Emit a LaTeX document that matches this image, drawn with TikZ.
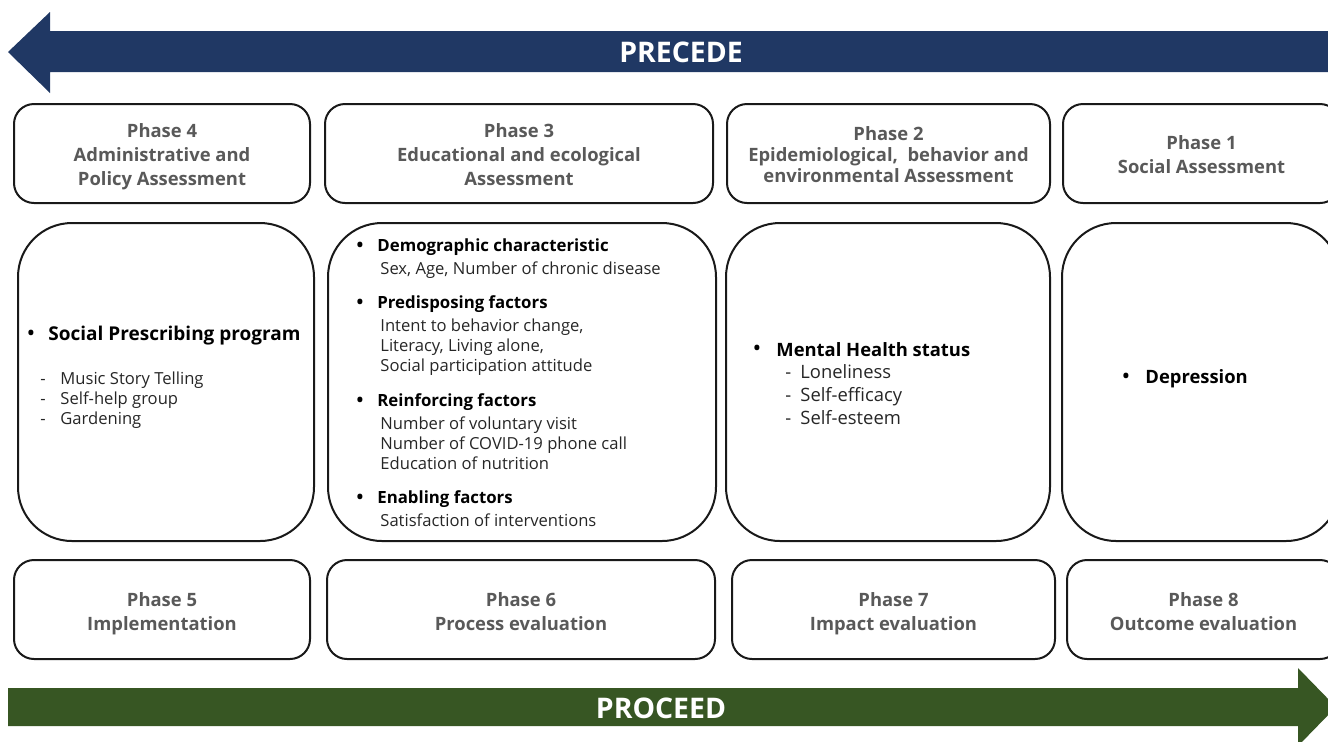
\documentclass[tikz,border=0pt]{standalone}
\usepackage{fontspec}
\setmainfont{Open Sans}
\definecolor{precedeblue}{HTML}{203864}
\definecolor{proceedgreen}{HTML}{375623}
\definecolor{phasegray}{HTML}{595959}

\begin{document}
\begin{tikzpicture}[x=0.5pt,y=-0.5pt,
  stage/.style={draw=black!90,line width=1pt,rounded corners=10pt},
  bigstage/.style={stage,rounded corners=27pt},
  phasetext/.style={font=\fontsize{9.2}{12}\selectfont\bfseries,text=phasegray,align=center,
    execute at begin node=\strut,execute at end node=\strut},
  bullet/.style={inner sep=0pt,font=\fontsize{9}{10}\selectfont\bfseries},
  lead/.style={anchor=west,inner sep=0pt,font=\fontsize{8.4}{10}\selectfont\bfseries},
  detail/.style={anchor=north west,inner sep=0pt,align=left,font=\fontsize{8.3}{10}\selectfont,text=black!85},
  banner/.style={font=\fontsize{14.2}{16}\selectfont\bfseries,text=white}]
  \useasboundingbox (0,0) rectangle (1328,741);

  % PRECEDE arrow, pointing left
  \fill[precedeblue] (1340,31) -- (50,31) -- (50,12) -- (8,52) -- (50,93) -- (50,72) -- (1340,72) -- cycle;
  \node[banner] (precede) at (681,52) {PRECEDE};

  % assessment phases (top row)
  \foreach \xa/\xb/\nm/\txt in {14/310/ph4/{Phase 4\\Administrative and\\Policy Assessment},
      325/713/ph3/{Phase 3\\Educational and ecological\\Assessment},
      727/1050/ph2/{Phase 2\\[-1.5pt]Epidemiological,\ \ behavior and\\[-1.5pt]environmental Assessment},
      1063/1340/ph1/{Phase 1\\Social Assessment}} {
    \draw[stage] (\xa,104) rectangle (\xb,203);
    \node[phasetext] (\nm) at ({(\xa+\xb)/2},158.5) {\txt};
  }

  % content boxes
  \foreach \xa/\xb in {18/314,328/716,726/1050,1062/1340}
    \draw[bigstage] (\xa,223) rectangle (\xb,541);

  % phase 4 content
  \node[bullet] (spp-b) at (31,335) {•};
  \node[lead,font=\fontsize{9.5}{10}\selectfont\bfseries] (spp) at (48,335.5) {Social Prescribing program};
  \node[detail] (spp-d) at (40,371) {\makebox[10pt][l]{-}Music Story Telling\\
    \makebox[10pt][l]{-}Self-help group\\\makebox[10pt][l]{-}Gardening};

  % phase 3 content
  \foreach \yb/\nm/\hd/\ln in {245/demo/{Demographic characteristic}/{Sex, Age, Number of chronic disease},
      302/pred/{Predisposing factors}/{Intent to behavior change,\\Literacy, Living alone,\\Social participation attitude},
      400/rein/{Reinforcing factors}/{Number of voluntary visit\\Number of COVID-19 phone call\\Education of nutrition},
      497/enab/{Enabling factors}/{Satisfaction of interventions}} {
    \node[bullet] (\nm-b) at (360,\yb+2) {•};
    \node[lead] (\nm) at (377,\yb+2.5) {\hd};
    \node[detail] (\nm-d) at (380,\yb+16) {\ln};
  }

  % phase 2 content
  \node[bullet] (mhs-b) at (757,350) {•};
  \node[lead,font=\fontsize{9.2}{10}\selectfont\bfseries] (mhs) at (776,349.5) {Mental Health status};
  \node[detail,font=\fontsize{9.2}{11.5}\selectfont] (mhs-d) at (785,364) {\makebox[7.5pt][l]{-}Loneliness\\
    \makebox[7.5pt][l]{-}Self-efficacy\\\makebox[7.5pt][l]{-}Self-esteem};

  % phase 1 content
  \node[bullet] (dep-b) at (1126,378) {•};
  \node[lead,font=\fontsize{9.2}{10}\selectfont\bfseries] (dep) at (1145,378.5) {Depression};

  % evaluation phases (bottom row)
  \foreach \xa/\xb/\nm/\txt in {14/310/ph5/{Phase 5\\Implementation},
      327/715/ph6/{Phase 6\\Process evaluation},
      732/1055/ph7/{Phase 7\\Impact evaluation},
      1067/1340/ph8/{Phase 8\\Outcome evaluation}} {
    \draw[stage] (\xa,560) rectangle (\xb,659);
    \node[phasetext] (\nm) at ({(\xa+\xb)/2},615.5) {\txt};
  }

  % PROCEED arrow, pointing right
  \fill[proceedgreen] (8,688) -- (1298,688) -- (1298,668) -- (1336,707) -- (1298,746) -- (1298,726) -- (8,726) -- cycle;
  \node[banner] (proceed) at (661,708) {PROCEED};
\end{tikzpicture}
\end{document}
